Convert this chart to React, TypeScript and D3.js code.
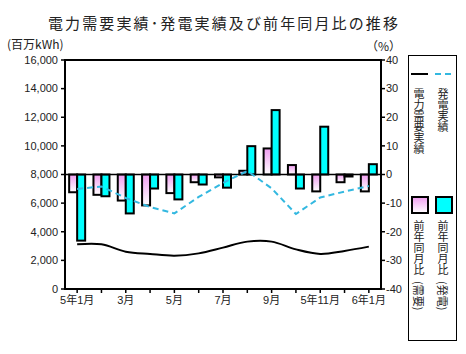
import * as d3 from "d3";

// categories (13 months)
const months = ["5年1月", "2月", "3月", "4月", "5月", "6月", "7月", "8月", "9月", "10月", "5年11月", "12月", "6年1月"];
const monthLabels = ["5年1月", "", "3月", "", "5月", "", "7月", "", "9月", "", "5年11月", "", "6年1月"];

// 百万kWh (left axis)
const demand = [3120, 3120, 2610, 2450, 2330, 2490, 2890, 3310, 3310, 2770, 2450, 2660, 2960];
const generation = [6990, 7160, 6360, 5730, 5280, 6430, 7410, 8250, 7030, 5240, 6390, 6810, 7200];

// % (right axis)
const demandYoY = [-6.2, -7.1, -9.1, -10.8, -6.5, -2.7, -1.0, 1.3, 9.1, 3.3, -5.9, -2.7, -5.9];
const genYoY = [-23.1, -7.6, -13.6, -4.9, -8.7, -3.5, -4.6, 9.9, 22.5, -4.9, 16.7, -0.7, 3.6];

const leftTicks = d3.range(0, 16001, 2000);
const rightTicks = d3.range(-40, 41, 10);

const W = 466;
const H = 354;
const plot = { left: 65, right: 381, top: 60, bottom: 289 };
const font = "'Liberation Sans', 'Noto Sans CJK JP', sans-serif";
const jp = "'Noto Sans CJK JP', sans-serif";
const cyan = "#00FFFF";
const dashBlue = "#33B8E0";

export default function App() {
  const x = d3.scaleBand<string>().domain(months).range([plot.left, plot.right]);
  const yL = d3.scaleLinear().domain([0, 16000]).range([plot.bottom, plot.top]);
  const yR = d3.scaleLinear().domain([-40, 40]).range([plot.bottom, plot.top]);
  const cx = (m: string) => (x(m) ?? 0) + x.bandwidth() / 2;
  const bw = 8;

  const solid = d3
    .line<number>()
    .x((_, i) => cx(months[i]))
    .y((d) => yL(d))
    .curve(d3.curveCatmullRom.alpha(0.5));
  const dashed = d3
    .line<number>()
    .x((_, i) => cx(months[i]))
    .y((d) => yL(d));

  const fmt = d3.format(",");
  const z = yR(0);

  return (
    <svg
      width={W}
      height={H}
      style={{ position: "absolute", left: 0, top: 0, background: "#fff" }}
      fontFamily={font}
    >
      <defs>
        <linearGradient id="pinkGrad" x1="0" y1="0" x2="0" y2="1">
          <stop offset="0" stopColor="#F09CF0" />
          <stop offset="1" stopColor="#FFFFFF" />
        </linearGradient>
      </defs>

      <text x={223} y={29} fontFamily={jp} fontSize={15} textAnchor="middle" textLength={350} lengthAdjust="spacing" fill="#222">
        電力需要実績･発電実績及び前年同月比の推移
      </text>
      <text x={7} y={49} fontFamily={jp} fontSize={12} fill="#222">
        (百万kWh)
      </text>
      <text x={366} y={51} fontFamily={jp} fontSize={12} fill="#222">
        （%）
      </text>

      {/* left axis ticks */}
      {leftTicks.map((t) => (
        <g key={"l" + t}>
          <line x1={61} x2={plot.left} y1={yL(t)} y2={yL(t)} stroke="#000" strokeWidth={1.5} />
          <text x={58} y={yL(t)} dy="0.35em" textAnchor="end" fontSize={11} fill="#222">
            {fmt(t)}
          </text>
        </g>
      ))}

      {/* right axis ticks */}
      {rightTicks.map((t) => (
        <g key={"r" + t}>
          <line x1={plot.right} x2={385} y1={yR(t)} y2={yR(t)} stroke="#000" strokeWidth={1.5} />
          <text x={386} y={yR(t)} dy="0.35em" fontSize={11} fill="#222">
            {t}
          </text>
        </g>
      ))}

      {/* x ticks */}
      {months.map((m, i) => (
        <g key={"x" + m}>
          <line x1={cx(m)} x2={cx(m)} y1={plot.bottom} y2={plot.bottom + 4} stroke="#000" strokeWidth={1.5} />
          {monthLabels[i] && (
            <text x={cx(m)} y={304} textAnchor="middle" fontSize={11} fill="#222">
              {monthLabels[i]}
            </text>
          )}
        </g>
      ))}

      {/* bars */}
      {months.map((m, i) => {
        const c = cx(m);
        const p = yR(demandYoY[i]);
        const g = yR(genYoY[i]);
        return (
          <g key={"b" + m}>
            <rect x={c - bw} y={Math.min(p, z)} width={bw} height={Math.abs(p - z)} fill="url(#pinkGrad)" stroke="#000" strokeWidth={2} />
            <rect x={c} y={Math.min(g, z)} width={bw} height={Math.abs(g - z)} fill={cyan} stroke="#000" strokeWidth={2} />
          </g>
        );
      })}

      <line x1={plot.left} x2={plot.right} y1={z} y2={z} stroke="#000" strokeWidth={1.5} />

      <path d={solid(demand) ?? ""} fill="none" stroke="#000" strokeWidth={2} />
      <path d={dashed(generation) ?? ""} fill="none" stroke={dashBlue} strokeWidth={2} strokeDasharray="6,4" />

      <rect x={plot.left} y={plot.top} width={plot.right - plot.left} height={plot.bottom - plot.top} fill="none" stroke="#000" strokeWidth={2} />

      {/* legend */}
      <rect x={408.5} y={55.5} width={48} height={285} fill="none" stroke="#000" strokeWidth={1} />
      <line x1={411} x2={428} y1={74} y2={74} stroke="#000" strokeWidth={2} />
      <line x1={435} x2={453} y1={74} y2={74} stroke={dashBlue} strokeWidth={2} strokeDasharray="6,4" />
      <text x={419} y={88} fontFamily={jp} fontSize={11} fill="#222" style={{ writingMode: "vertical-rl" }}>
        電力需要実績
      </text>
      <text x={443} y={88} fontFamily={jp} fontSize={11} fill="#222" style={{ writingMode: "vertical-rl" }}>
        発電実績
      </text>
      <rect x={412} y={197} width={16} height={16} fill="url(#pinkGrad)" stroke="#000" strokeWidth={2} />
      <rect x={436} y={197} width={16} height={16} fill={cyan} stroke="#000" strokeWidth={2} />
      <text x={419} y={220} fontFamily={jp} fontSize={11} fill="#222" style={{ writingMode: "vertical-rl" }}>
        前年同月比
      </text>
      <text x={443} y={220} fontFamily={jp} fontSize={11} fill="#222" style={{ writingMode: "vertical-rl" }}>
        前年同月比
      </text>
      <text transform="translate(419,281) rotate(90)" fontFamily={jp} fontSize={11} fill="#222" dominantBaseline="central">
        (需要)
      </text>
      <text transform="translate(443,281) rotate(90)" fontFamily={jp} fontSize={11} fill="#222" dominantBaseline="central">
        (発電)
      </text>
    </svg>
  );
}
